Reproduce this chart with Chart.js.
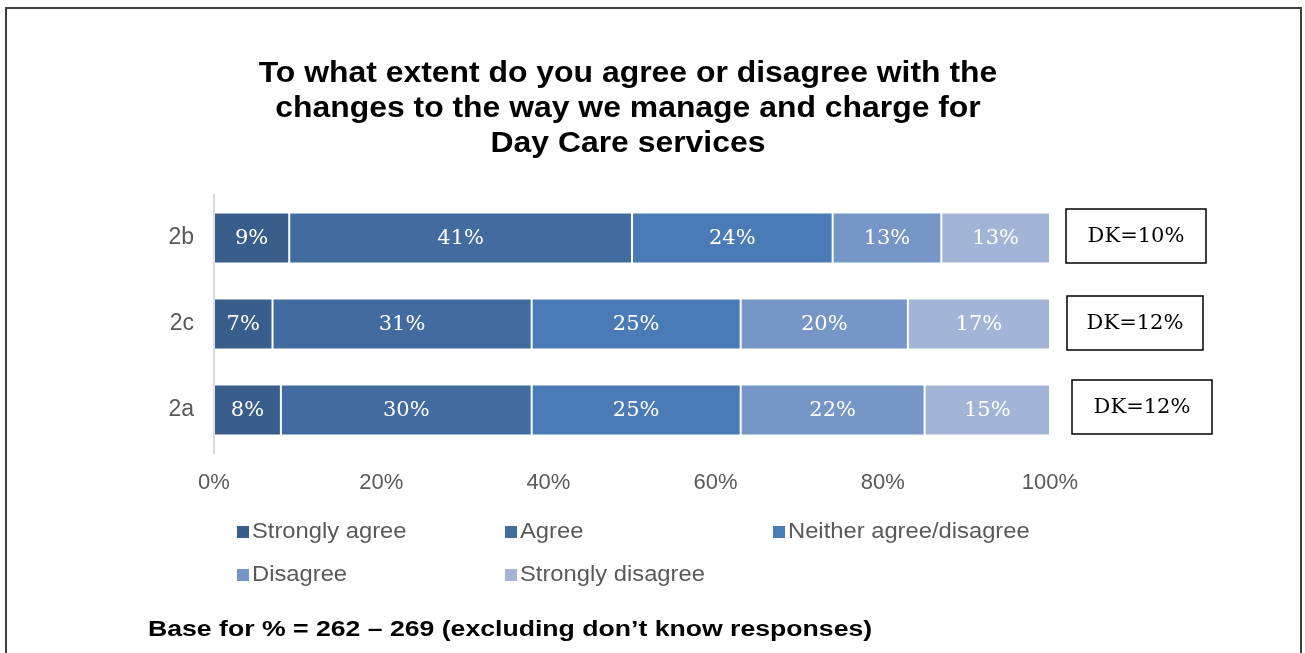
<!DOCTYPE html>
<html>
<head>
<meta charset="utf-8">
<title>Day Care services</title>
<script src="https://cdn.jsdelivr.net/npm/chart.js@4.4.1/dist/chart.umd.min.js"></script>
<style>
  html, body { margin: 0; padding: 0; background: #fff; }
  canvas { display: block; }
</style>
</head>
<body>
<canvas id="ctx" width="1305" height="653"></canvas>
<script>
// survey data
const questions = ['2b', '2c', '2a'];
const stronglyAgree = [9, 7, 8];
const agree = [41, 31, 30];
const neither = [24, 25, 25];
const disagree = [13, 20, 22];
const stronglyDisagree = [13, 17, 15];
const dontKnow = [10, 12, 12];
const seriesNames = ['Strongly agree', 'Agree', 'Neither agree/disagree', 'Disagree', 'Strongly disagree'];
const xTicks = [0, 20, 40, 60, 80, 100];

const titleLines = [
  'To what extent do you agree or disagree with the',
  'changes to the way we manage and charge for',
  'Day Care services'
];
const baseNote = 'Base for % = 262 \u2013 269 (excluding don\u2019t know responses)';

const colours = ['#395e8b', '#426ca0', '#4a7bb6', '#7596c7', '#a2b5d6'];
const greyText = '#595959';

const seriesValues = [stronglyAgree, agree, neither, disagree, stronglyDisagree];

// text drawn a little wider than the font's own proportions
function wideText(c, txt, x, y, sx) {
  c.save();
  c.translate(x, y);
  c.scale(sx, 1);
  c.fillText(txt, 0, 0);
  c.restore();
}

// labels inside the bars, DK boxes, legend, title and the frame
const extras = {
  id: 'extras',
  afterDatasetsDraw(chart) {
    const c = chart.ctx;
    c.save();
    c.fillStyle = '#fff';
    c.font = '21px "DejaVu Serif"';
    c.textAlign = 'center';
    c.textBaseline = 'middle';
    chart.data.datasets.forEach((ds, i) => {
      chart.getDatasetMeta(i).data.forEach((bar, j) => {
        const mid = (bar.x + bar.base) / 2;
        c.fillText(ds.data[j] + '%', mid, bar.y + 1);
      });
    });
    c.restore();
  },
  afterDraw(chart) {
    const c = chart.ctx;
    const yScale = chart.scales.y;
    c.save();

    // outer frame
    c.strokeStyle = '#404040';
    c.lineWidth = 2;
    c.strokeRect(6, 8, 1295, 700);

    // title
    c.fillStyle = '#000';
    c.font = 'bold 29px "Liberation Sans", Arial';
    c.textAlign = 'center';
    c.textBaseline = 'middle';
    titleLines.forEach((line, i) => wideText(c, line, 628, 74 + i * 35, 1.1));

    // don't know boxes
    const shiftX = [0, 1, 6];
    const shiftY = [-2, -1, -3];
    const boxW = [140, 136, 140];
    c.font = '21px "DejaVu Serif"';
    c.lineWidth = 1.5;
    c.strokeStyle = '#000';
    questions.forEach((q, i) => {
      const cy = yScale.getPixelForValue(i);
      const x = 1066 + shiftX[i];
      const y = cy - 27 + shiftY[i];
      c.strokeRect(x, y, boxW[i], 54);
      c.fillStyle = '#000';
      c.fillText('DK=' + dontKnow[i] + '%', x + boxW[i] / 2, y + 28);
    });

    // legend
    c.font = '22px "Liberation Sans", Arial';
    c.textAlign = 'left';
    seriesNames.forEach((name, i) => {
      const col = i % 3;
      const row = Math.floor(i / 3);
      const x = 237 + col * 268;
      const y = 532 + row * 43;
      c.fillStyle = colours[i];
      c.fillRect(x, y - 6, 12, 12);
      c.fillStyle = greyText;
      wideText(c, name, x + 15, y, 1.08);
    });

    // base note
    c.fillStyle = '#000';
    c.font = 'bold 22px "Liberation Sans", Arial';
    wideText(c, baseNote, 148, 630, 1.21);
    c.restore();
  }
};

const chart = new Chart(document.getElementById('ctx'), {
  type: 'bar',
  data: {
    labels: questions,
    datasets: seriesNames.map((name, i) => ({
      label: name,
      data: seriesValues[i],
      backgroundColor: colours[i],
      borderColor: 'rgba(255,255,255,0.35)',
      borderWidth: 1,
      borderSkipped: false,
      categoryPercentage: 1,
      barPercentage: 0.593
    }))
  },
  options: {
    indexAxis: 'y',
    responsive: false,
    animation: false,
    layout: { padding: { top: 195, right: 255, left: 0, bottom: 0 } },
    plugins: {
      legend: { display: false },
      title: { display: false },
      tooltip: { enabled: false }
    },
    scales: {
      x: {
        stacked: true,
        min: 0,
        max: 100,
        afterFit(scale) { scale.height = 200; },
        afterBuildTicks(scale) { scale.ticks = xTicks.map(v => ({ value: v })); },
        grid: { display: false, drawTicks: false },
        border: { display: false },
        ticks: {
          padding: 17,
          color: greyText,
          font: { family: '"Liberation Sans", Arial', size: 22 },
          callback: v => v + '%'
        }
      },
      y: {
        stacked: true,
        afterFit(scale) { scale.width = 214; },
        grid: { display: false, drawTicks: false },
        border: { display: true, color: '#d9d9d9', width: 2 },
        ticks: {
          padding: 20,
          color: greyText,
          font: { family: '"Liberation Sans", Arial', size: 23 }
        }
      }
    }
  },
  plugins: [extras]
});
</script>
</body>
</html>
